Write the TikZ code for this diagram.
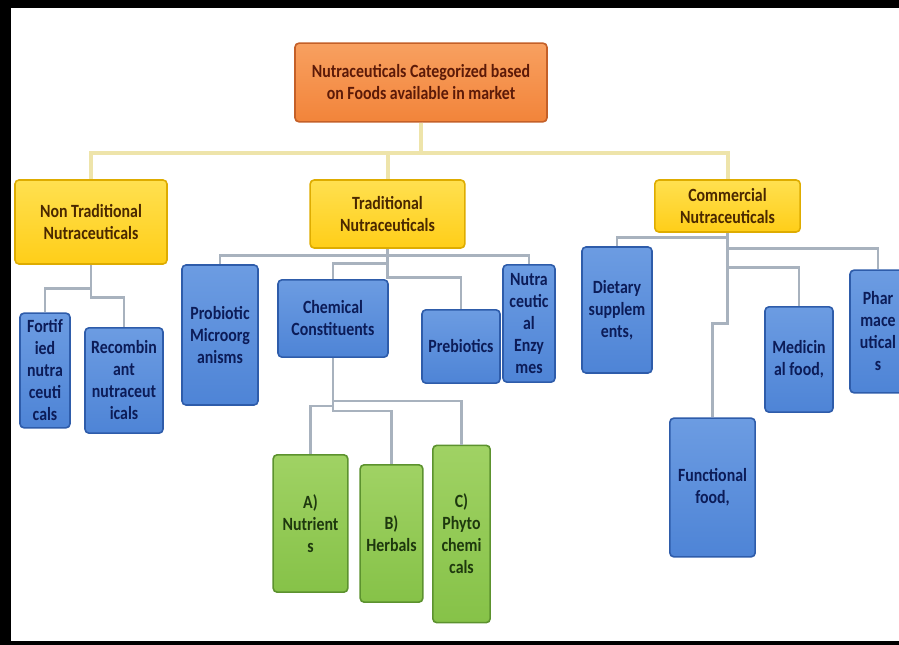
\documentclass[tikz,border=0pt]{standalone}
\usepackage{fontspec}
\newfontfamily\smartfont{Carlito}[FakeStretch=0.85]
\definecolor{RootFill}{RGB}{242, 132, 58}
\definecolor{RootTop}{RGB}{248, 160, 96}
\definecolor{RootEdge}{RGB}{196, 96, 40}
\definecolor{RootText}{RGB}{92, 26, 8}
\definecolor{CatFill}{RGB}{255, 206, 24}
\definecolor{CatTop}{RGB}{255, 224, 80}
\definecolor{CatEdge}{RGB}{222, 172, 0}
\definecolor{CatText}{RGB}{74, 40, 0}
\definecolor{ItemFill}{RGB}{78, 132, 214}
\definecolor{ItemTop}{RGB}{108, 156, 226}
\definecolor{ItemEdge}{RGB}{46, 92, 170}
\definecolor{ItemText}{RGB}{12, 28, 88}
\definecolor{SubFill}{RGB}{134, 194, 72}
\definecolor{SubTop}{RGB}{160, 210, 100}
\definecolor{SubEdge}{RGB}{92, 146, 46}
\definecolor{SubText}{RGB}{30, 56, 14}
\definecolor{BusYellow}{RGB}{238, 228, 170}
\definecolor{LinkGray}{RGB}{168, 178, 190}
\usetikzlibrary{calc}

\begin{document}
\begin{tikzpicture}[x=0.75pt, y=-0.75pt,
        box/.style={rectangle, rounded corners=3pt, line width=1.2pt, align=center, inner sep=0pt,
            font={\smartfont\bfseries\fontsize{14}{16.5}\selectfont}},
        rootbox/.style={box, draw=RootEdge, top color=RootTop, bottom color=RootFill, text=RootText},
        catbox/.style={box, draw=CatEdge, top color=CatTop, bottom color=CatFill, text=CatText},
        itembox/.style={box, draw=ItemEdge, top color=ItemTop, bottom color=ItemFill, text=ItemText},
        subbox/.style={box, draw=SubEdge, top color=SubTop, bottom color=SubFill, text=SubText},
        bus/.style={line width=3pt, BusYellow},
        link/.style={line width=2.2pt, LinkGray}
    ]
        \useasboundingbox (0,0) rectangle (899,645);
        \clip (0,0) rectangle (899,645);

        % Root
        \node[rootbox, minimum width=189pt, minimum height=59pt] (root) at (421, 82.5)
            {Nutraceuticals Categorized based\\on Foods available in market};

        % Main categories
        \node[catbox, minimum width=114pt, minimum height=63pt] (nontrad) at (91, 222) {Non Traditional\\Nutraceuticals};
        \node[catbox, minimum width=116pt, minimum height=51pt] (trad) at (387.5, 214) {Traditional\\Nutraceuticals};
        \node[catbox, minimum width=109pt, minimum height=39pt] (comm) at (727.5, 206) {Commercial\\Nutraceuticals};

        \draw[bus] (root.south) -- ++(0,30) -| (nontrad.north);
        \draw[bus] (root.south) -- ++(0,30) -| (trad.north);
        \draw[bus] (root.south) -- ++(0,30) -| (comm.north);

        % Non traditional
        \node[itembox, minimum width=37.5pt, minimum height=86pt] (fortified) at (45, 370.5) {Fortif\\ied\\nutra\\ceuti\\cals};
        \node[itembox, minimum width=58.5pt, minimum height=79pt] (recomb) at (124, 380.5) {Recombin\\ant\\nutraceut\\icals};

        \draw[link] (nontrad.south) -- ++(0,24) -| (fortified.north);
        \draw[link] (nontrad.south) -- ++(0,33) -| (recomb.north);

        % Traditional
        \node[itembox, minimum width=57pt, minimum height=105pt] (probiotic) at (220, 335) {Probiotic\\Microorg\\anisms};
        \node[itembox, minimum width=82.5pt, minimum height=58pt] (chemical) at (333, 318.5) {Chemical\\Constituents};
        \node[itembox, minimum width=58.5pt, minimum height=55pt] (prebiotics) at (461, 346.5) {Prebiotics};
        \node[itembox, minimum width=39pt, minimum height=88pt] (enzymes) at (529, 323.5) {Nutra\\ceutic\\al\\Enzy\\mes};

        \draw[link] (trad.south) -- ++(0,7) -| (probiotic.north);
        \draw[link] (trad.south) -- ++(0,7) -| (enzymes.north);
        \draw[link] (trad.south) -- ++(0,15) -| (chemical.north);
        \draw[link] (trad.south) -- ++(0,29) -| (prebiotics.north);

        % Chemical constituents
        \node[subbox, minimum width=56pt, minimum height=103pt] (nutrients) at (310.5, 523.5) {A)\\Nutrient\\s};
        \node[subbox, minimum width=47pt, minimum height=103pt] (herbals) at (391.5, 533.5) {B)\\Herbals};
        \node[subbox, minimum width=43pt, minimum height=133pt] (phyto) at (461.5, 534) {C)\\Phyto\\chemi\\cals};

        \draw[link] (chemical.south) -- ++(0,48) -| (nutrients.north);
        \draw[link] (chemical.south) -- ++(0,53) -| (herbals.north);
        \draw[link] (chemical.south) -- ++(0,43) -| (phyto.north);

        % Commercial
        \node[itembox, minimum width=52.5pt, minimum height=94.5pt] (dietary) at (617, 310) {Dietary\\supplem\\ents,};
        \node[itembox, minimum width=64pt, minimum height=104pt] (functional) at (712.5, 487.5) {Functional\\food,};
        \node[itembox, minimum width=51pt, minimum height=79pt] (medicinal) at (799, 359.5) {Medicin\\al food,};
        \node[itembox, minimum width=42pt, minimum height=92pt] (pharma) at (878, 331.5) {Phar\\mace\\utical\\s};

        \draw[link] (comm.south) -- ++(0,5) -| (dietary.north);
        \draw[link] (comm.south) -- ++(0,16) -| (pharma.north);
        \draw[link] (comm.south) -- ++(0,35) -| (medicinal.north);
        \draw[link] (comm.south) -- ++(0,91) -| (functional.north);

        % Frame
        \fill[black] (0,0) rectangle (899,8);
        \fill[black] (0,0) rectangle (11,645);
        \fill[black] (0,641) rectangle (899,645);
    \end{tikzpicture}
\end{document}
